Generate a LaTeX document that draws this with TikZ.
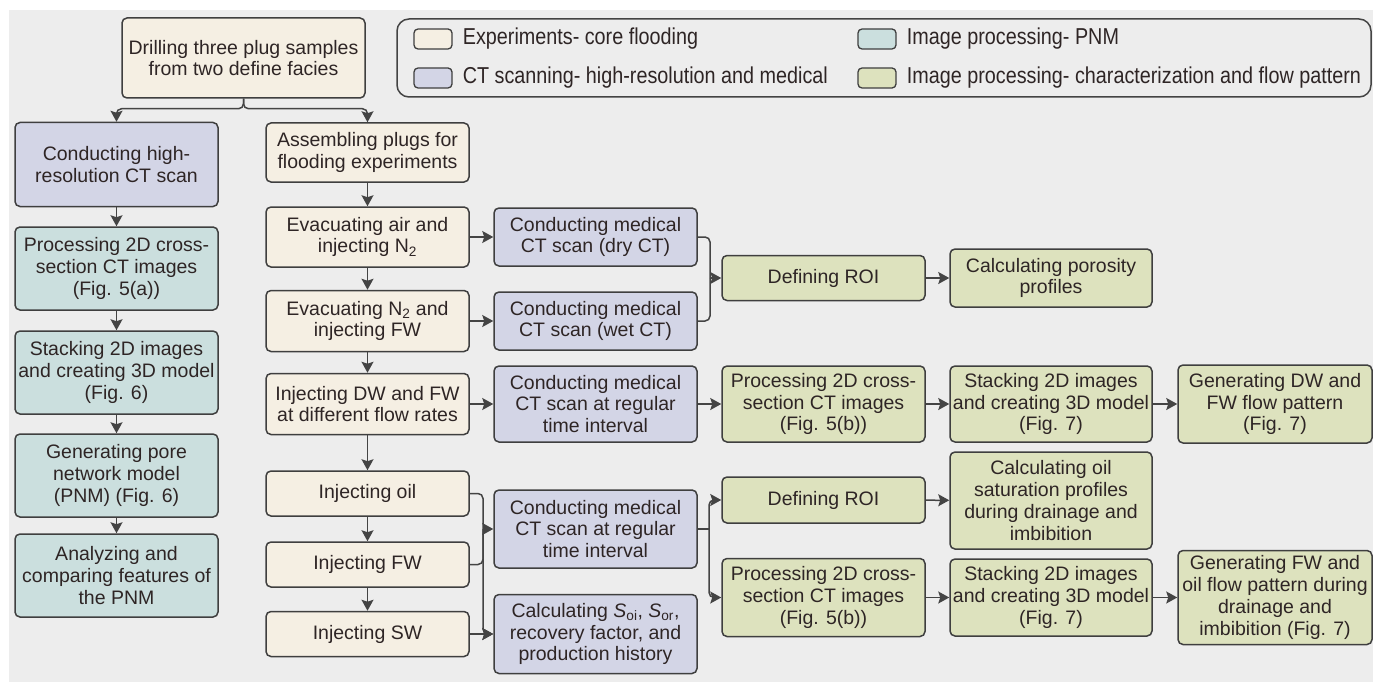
\documentclass[tikz,border=0pt]{standalone}
\usepackage{fontspec}
\setmainfont{Liberation Sans}
\newfontfamily\legfont{Liberation Sans}[FakeStretch=0.86]
\usetikzlibrary{arrows.meta,positioning}
\definecolor{bgcol}{HTML}{EDEDED}
\definecolor{expcol}{HTML}{F5EFE3}
\definecolor{ctcol}{HTML}{D3D5E6}
\definecolor{pnmcol}{HTML}{CBDFDE}
\definecolor{flowcol}{HTML}{DDE2BE}
\definecolor{edgecol}{HTML}{3F3F3F}
\definecolor{conncol}{HTML}{444444}
\definecolor{txtcol}{HTML}{2E2525}
\newcommand\boxfont{\fontsize{19.5}{21.8}\selectfont}
\newcommand\legendfont{\legfont\fontsize{23}{25}\selectfont}
\tikzset{
	box/.style={draw=edgecol, line width=1.5pt, rounded corners=5pt, align=center, text=txtcol, minimum width=203pt, inner sep=2pt, font=\boxfont},
	expbox/.style={box, fill=expcol},
	ctbox/.style={box, fill=ctcol},
	pnmbox/.style={box, fill=pnmcol},
	flowbox/.style={box, fill=flowcol},
	arr/.style={draw=conncol, line width=1.5pt, rounded corners=5pt, -{Stealth[length=11pt,width=12pt,inset=2pt]}},
	ln/.style={draw=conncol, line width=1.5pt, rounded corners=5pt},
	legbox/.style={draw=conncol, line width=1.5pt, rounded corners=12pt, minimum width=974pt, minimum height=78pt},
	swatch/.style={draw=edgecol, line width=1.3pt, rounded corners=4pt, minimum width=38pt, minimum height=20pt, inner sep=0pt},
	legtext/.style={inner sep=0pt, text=txtcol, font=\legendfont, anchor=west},
}
\begin{document}
\begin{tikzpicture}[x=1pt,y=-1pt]
	\useasboundingbox (0,0) rectangle (1373,682);
	\fill[bgcol] (9,10) rectangle (1373,682);
	% legend
	\node[legbox] (legend) at (884,58) {};
	\node[swatch, fill=expcol] (swexp) at (433,39) {};
	\node[swatch, fill=ctcol] (swct) at (433,78) {};
	\node[swatch, fill=pnmcol] (swpnm) at (877,39) {};
	\node[swatch, fill=flowcol] (swflow) at (877,78) {};
	\node[legtext, right=10pt of swexp] (lexp) {Experiments- core flooding};
	\node[legtext, right=10pt of swct] (lct) {CT scanning- high-resolution and medical};
	\node[legtext, right=10pt of swpnm] (lpnm) {Image processing- PNM};
	\node[legtext, right=10pt of swflow] (lflow) {Image processing- characterization and flow pattern};
	% boxes
	\node[expbox, minimum width=243pt, minimum height=80pt] (drill) at (243.5,58) {Drilling three plug samples\\from two define facies};
	\node[ctbox, minimum height=84pt] (hires) at (116.5,164.5) {Conducting high-\\resolution CT scan};
	\node[pnmbox, minimum height=83pt] (proca) at (116.5,268.5) {Processing 2D cross-\\section CT images\\(Fig. 5(a))};
	\node[pnmbox, minimum height=83pt] (stack6) at (116.5,372.5) {Stacking 2D images\\and creating 3D model\\(Fig. 6)};
	\node[pnmbox, minimum height=83pt] (pnm) at (116.5,475.5) {Generating pore\\network model\\(PNM) (Fig. 6)};
	\node[pnmbox, minimum height=83pt] (anal) at (116.5,575.5) {Analyzing and\\comparing features of\\the PNM};
	\node[expbox, minimum height=59pt] (assem) at (367.5,152.5) {Assembling plugs for\\flooding experiments};
	\node[expbox, minimum height=60pt] (evair) at (367.5,237) {Evacuating air and\\injecting N\textsubscript{2}};
	\node[expbox, minimum height=61pt] (evnit) at (367.5,321) {Evacuating N\textsubscript{2} and\\injecting FW};
	\node[expbox, minimum height=61pt] (injdw) at (367.5,404) {Injecting DW and FW\\at different flow rates};
	\node[expbox, minimum height=45pt] (injoil) at (367.5,493.5) {Injecting oil};
	\node[expbox, minimum height=45pt] (injfw) at (367.5,564.5) {Injecting FW};
	\node[expbox, minimum height=45pt] (injsw) at (367.5,634) {Injecting SW};
	\node[ctbox, minimum height=58pt] (ctdry) at (595.5,237) {Conducting medical\\CT scan (dry CT)};
	\node[ctbox, minimum height=58pt] (ctwet) at (595.5,321) {Conducting medical\\CT scan (wet CT)};
	\node[ctbox, minimum height=76pt] (ctdw) at (595.5,404) {Conducting medical\\CT scan at regular\\time interval};
	\node[ctbox, minimum height=78pt] (ctoil) at (595.5,529) {Conducting medical\\CT scan at regular\\time interval};
	\node[ctbox, minimum height=79pt] (calcs) at (595.5,634) {Calculating \textit{S}\textsubscript{oi}, \textit{S}\textsubscript{or},\\recovery factor, and\\production history};
	\node[flowbox, minimum height=45pt] (roia) at (823.5,278) {Defining ROI};
	\node[flowbox, minimum height=76pt] (procb) at (823.5,404) {Processing 2D cross-\\section CT images\\(Fig. 5(b))};
	\node[flowbox, minimum height=46pt] (roib) at (823.5,500) {Defining ROI};
	\node[flowbox, minimum height=78pt] (procc) at (823.5,597.5) {Processing 2D cross-\\section CT images\\(Fig. 5(b))};
	\node[flowbox, minimum width=202pt, minimum height=58pt] (poro) at (1051,278) {Calculating porosity\\profiles};
	\node[flowbox, minimum width=202pt, minimum height=76pt] (stack7) at (1051,404) {Stacking 2D images\\and creating 3D model\\(Fig. 7)};
	\node[flowbox, minimum width=202pt, minimum height=97pt] (oilsat) at (1051,500.5) {Calculating oil\\saturation profiles\\during drainage and\\imbibition};
	\node[flowbox, minimum width=202pt, minimum height=77pt] (stack7b) at (1051,597.5) {Stacking 2D images\\and creating 3D model\\(Fig. 7)};
	\node[flowbox, minimum width=194pt, minimum height=78pt] (gendw) at (1275,404) {Generating DW and\\FW flow pattern\\(Fig. 7)};
	\node[flowbox, minimum width=194pt, minimum height=94pt] (genoil) at (1275,597.5) {Generating FW and\\oil flow pattern during\\drainage and\\imbibition (Fig. 7)};
	% connectors
	\draw[arr] (drill.south) -- ++(0,10) -| (hires.north);
	\draw[arr] (drill.south) -- ++(0,10) -| (assem.north);
	\draw[arr] (hires) -- (proca);
	\draw[arr] (proca) -- (stack6);
	\draw[arr] (stack6) -- (pnm);
	\draw[arr] (pnm) -- (anal);
	\draw[arr] (assem) -- (evair);
	\draw[arr] (evair) -- (evnit);
	\draw[arr] (evnit) -- (injdw);
	\draw[arr] (injdw) -- (injoil);
	\draw[arr] (injoil) -- (injfw);
	\draw[arr] (injfw) -- (injsw);
	\draw[arr] (evair) -- (ctdry);
	\draw[arr] (evnit) -- (ctwet);
	\draw[arr] (injdw) -- (ctdw);
	\coordinate (jroi) at (710,278);
	\draw[ln] (ctdry.east) -| (jroi);
	\draw[ln] (ctwet.east) -| (jroi);
	\draw[arr] (jroi) -- (roia);
	\draw[arr] (roia) -- (poro);
	\draw[arr] (ctdw) -- (procb);
	\draw[arr] (procb) -- (stack7);
	\draw[arr] (stack7) -- (gendw);
	\coordinate (jinj) at (483,529);
	\draw[arr] (injoil.east) -| (jinj) |- (calcs.west);
	\draw[ln] (injfw.east) -| (jinj);
	\draw[arr] (jinj) -- (ctoil.west);
	\draw[arr] (injsw) -- (calcs);
	\coordinate (jct) at (709,529);
	\draw[ln] (ctoil.east) -- (jct);
	\draw[arr] (jct) |- (roib.west);
	\draw[arr] (jct) |- (procc.west);
	\draw[arr] (roib) -- (oilsat);
	\draw[arr] (procc) -- (stack7b);
	\draw[arr] (stack7b) -- (genoil);
\end{tikzpicture}
\end{document}
